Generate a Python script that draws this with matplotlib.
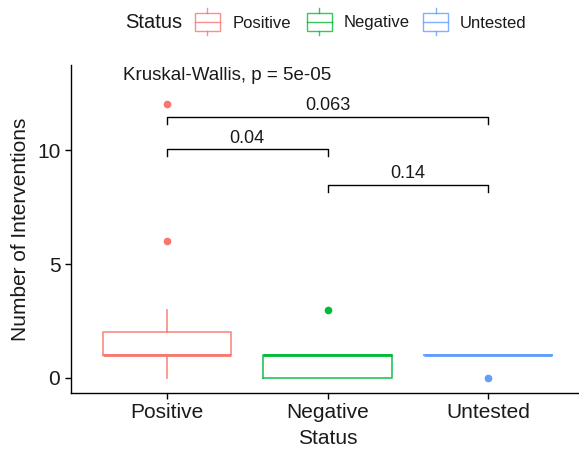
import matplotlib.pyplot as plt
from matplotlib.patches import Rectangle
from matplotlib.lines import Line2D

plt.rcParams['font.family'] = ['Liberation Sans', 'DejaVu Sans']

# box summaries
groups = ['Positive', 'Negative', 'Untested']
colors = ['#F8766D', '#00BA38', '#619CFF']
q1 = [1, 0, 1]
med = [1, 1, 1]
q3 = [2, 1, 1]
whislo = [0, 0, 1]
whishi = [3, 1, 1]
fliers = [[6, 12], [3], [0]]

# pairwise comparisons
pair_a = [1, 1, 2]
pair_b = [3, 2, 3]
pair_y = [11.45, 10.03, 8.46]
pair_p = ['0.063', '0.04', '0.14']
kw_text = 'Kruskal-Wallis, p = 5e-05'

fig = plt.figure(figsize=(5.79, 4.5), dpi=100)
ax = fig.add_axes([70.7/579, 1 - 392.7/450, 513.6/579, (392.7 - 65)/450])

pos = [1, 2, 3]
for i in range(3):
    st = [dict(med=med[i], q1=q1[i], q3=q3[i], whislo=whislo[i],
               whishi=whishi[i], fliers=fliers[i])]
    c = colors[i]
    ax.bxp(st, positions=[pos[i]], widths=0.8, showcaps=False,
           boxprops=dict(color=c, lw=1.2, alpha=0.85),
           whiskerprops=dict(color=c, lw=1.2, alpha=0.85),
           medianprops=dict(color=c, lw=2.0),
           flierprops=dict(marker='o', markerfacecolor=c, markeredgecolor=c,
                           markersize=4.5))

tip = 0.3
for a, b, y, p in zip(pair_a, pair_b, pair_y, pair_p):
    ax.plot([a, a, b, b], [y - tip, y, y, y - tip], color='black', lw=1.0)
    ax.text((a + b) / 2, y + 0.12, p, ha='center', va='bottom', fontsize=13,
            color='#1a1a1a')

ax.text(0.725, 13.25, kw_text, ha='left', va='center', fontsize=13.5,
        color='#1a1a1a')

ax.set_xlim(0.4, 3.6)
ax.set_ylim(-0.645, 13.73)
ax.set_xticks(pos)
ax.set_xticklabels(groups)
ax.set_yticks([0, 5, 10])
ax.tick_params(labelsize=15, colors='black', labelcolor='#1a1a1a',
               length=4, width=1)
ax.spines['top'].set_visible(False)
ax.spines['right'].set_visible(False)
for s in ['left', 'bottom']:
    ax.spines[s].set_linewidth(1.0)
ax.set_xlabel('Status', fontsize=15, color='#1a1a1a', labelpad=5)
ax.set_ylabel('Number of Interventions', fontsize=15, color='#1a1a1a',
              labelpad=5)

# legend on top, drawn in figure pixels
W, H = 579, 450


def fx(px):
    return px / W


def fy(py):
    return 1 - py / H


fig.text(fx(125.5), fy(23), 'Status', fontsize=14.5, ha='left', va='center',
         color='#1a1a1a')
key_x = [194.6, 306.5, 423]
text_x = [233, 344, 460]
for i in range(3):
    c = colors[i]
    x0 = key_x[i]
    kw = 25
    fig.add_artist(Rectangle((fx(x0), fy(30.6)), kw / W, (30.6 - 13) / H,
                             transform=fig.transFigure, fill=False,
                             edgecolor=c, lw=1.0, alpha=0.8))
    fig.add_artist(Line2D([fx(x0), fx(x0 + kw)], [fy(21.6), fy(21.6)],
                          transform=fig.transFigure, color=c, lw=1.0, alpha=0.8))
    fig.add_artist(Line2D([fx(x0 + kw / 2)] * 2, [fy(8), fy(13)],
                          transform=fig.transFigure, color=c, lw=1.0, alpha=0.8))
    fig.add_artist(Line2D([fx(x0 + kw / 2)] * 2, [fy(30.6), fy(35)],
                          transform=fig.transFigure, color=c, lw=1.0, alpha=0.8))
    fig.text(fx(text_x[i]), fy(23), groups[i], fontsize=12, ha='left',
             va='center', color='#1a1a1a')

fig.savefig('out.png', dpi=100)
